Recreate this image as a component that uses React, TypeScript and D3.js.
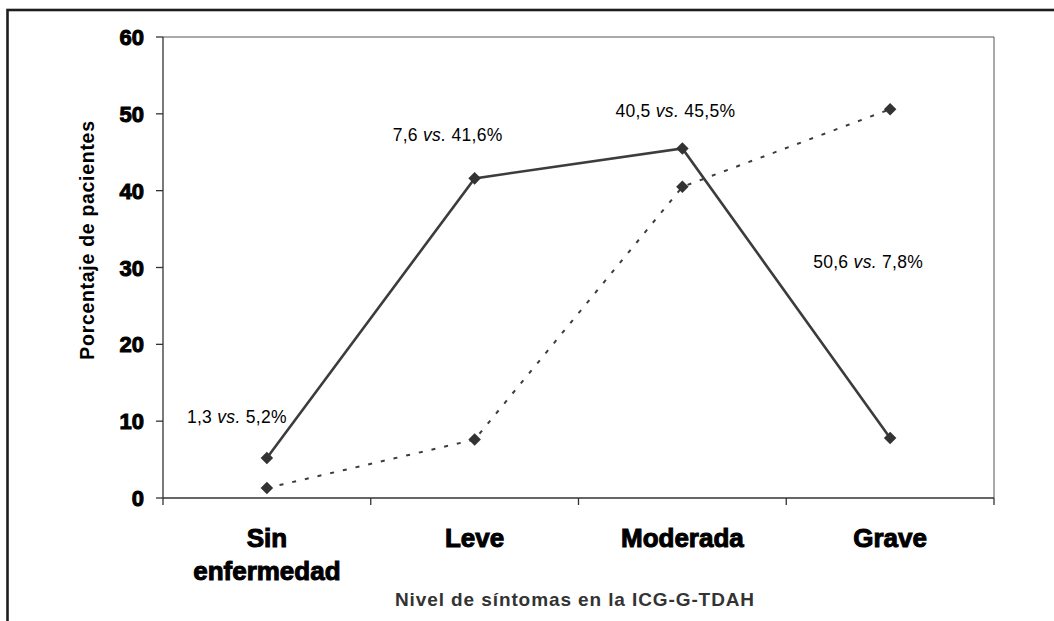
import React from "react";
import * as d3 from "d3";

// Symptom level categories (ICG-G-TDAH)
const categories = ["Sin enfermedad", "Leve", "Moderada", "Grave"];
const categoryLines = [["Sin", "enfermedad"], ["Leve"], ["Moderada"], ["Grave"]];
// Percentage of patients, two groups
const solidSeries = [5.2, 41.6, 45.5, 7.8];
const dottedSeries = [1.3, 7.6, 40.5, 50.6];
// Annotation text: "dotted vs. solid%"
const annotationFirst = ["1,3", "7,6", "40,5", "50,6"];
const annotationSecond = ["5,2%", "41,6%", "45,5%", "7,8%"];
const yTicks = [0, 10, 20, 30, 40, 50, 60];

const W = 1054;
const H = 621;
const plot = { left: 163, right: 994, top: 37, bottom: 498 };

// Label placement relative to each category centre (dx) and absolute value height (yv)
const annotationLayout = [
  { dx: -30, yv: 9.8 },
  { dx: -27, yv: 46.4 },
  { dx: -7, yv: 49.6 },
  { dx: -22, yv: 29.9 },
];

const LINE = "#3c3c3c";
const FONT = "Liberation Sans, Arial, sans-serif";

export default function App() {
  const x = d3.scaleBand<string>().domain(categories).range([plot.left, plot.right]).padding(0);
  const y = d3.scaleLinear().domain([0, 60]).range([plot.bottom, plot.top]);
  const cx = (i: number) => (x(categories[i]) as number) + x.bandwidth() / 2;

  const line = d3
    .line<number>()
    .x((_, i) => cx(i))
    .y((d) => y(d));

  const diamond = d3.symbol().type(d3.symbolDiamond2).size(100)() as string;

  const xTickPositions = [...categories.map((c) => x(c) as number), plot.right];

  return (
    <div style={{ position: "fixed", left: 0, top: 0, width: W, height: H }}>
      <svg width={W} height={H} style={{ display: "block", background: "#fff" }}>
        {/* outer frame */}
        <rect x={7.5} y={10} width={1200} height={800} fill="none" stroke="#1e1e1e" strokeWidth={2.6} />

        {/* plot box top/right */}
        <line x1={plot.left} x2={plot.right} y1={plot.top} y2={plot.top} stroke="#555" strokeWidth={1} />
        <line x1={plot.right} x2={plot.right} y1={plot.top} y2={plot.bottom} stroke="#555" strokeWidth={1} />

        {/* y axis */}
        <line x1={plot.left} x2={plot.left} y1={plot.top} y2={plot.bottom} stroke="#333" strokeWidth={1.3} />
        {yTicks.map((t) => (
          <g key={t}>
            <line x1={plot.left - 7} x2={plot.left} y1={y(t)} y2={y(t)} stroke="#333" strokeWidth={1.3} />
            <text
              x={144}
              y={y(t) + 8}
              textAnchor="end"
              fontFamily={FONT}
              fontWeight="bold"
              fontSize={22}
              fill="#000"
              stroke="#000"
              strokeWidth={1}
            >
              {t}
            </text>
          </g>
        ))}

        {/* x axis */}
        <line x1={plot.left} x2={plot.right} y1={plot.bottom} y2={plot.bottom} stroke="#333" strokeWidth={1.3} />
        {xTickPositions.map((p, i) => (
          <line key={i} x1={p} x2={p} y1={plot.bottom} y2={plot.bottom + 7} stroke="#333" strokeWidth={1.3} />
        ))}
        {categoryLines.map((lines, i) => (
          <text
            key={i}
            x={cx(i)}
            y={547}
            textAnchor="middle"
            fontFamily={FONT}
            fontWeight="bold"
            fontSize={26}
            fill="#000"
            stroke="#000"
            strokeWidth={1}
          >
            {lines.map((l, j) => (
              <tspan key={j} x={cx(i)} dy={j === 0 ? 0 : 33}>
                {l}
              </tspan>
            ))}
          </text>
        ))}

        {/* axis titles */}
        <text
          transform={`translate(94,240) rotate(-90)`}
          textAnchor="middle"
          fontFamily={FONT}
          fontWeight="bold"
          fontSize={19.5}
          letterSpacing={0.7}
          fill="#000"
        >
          Porcentaje de pacientes
        </text>
        <text
          x={575}
          y={606}
          textAnchor="middle"
          fontFamily={FONT}
          fontWeight="bold"
          fontSize={19}
          letterSpacing={0.9}
          fill="#333"
        >
          Nivel de síntomas en la ICG-G-TDAH
        </text>

        {/* series */}
        <path d={line(dottedSeries) as string} fill="none" stroke={LINE} strokeWidth={2} strokeDasharray="4,9" />
        <path d={line(solidSeries) as string} fill="none" stroke={LINE} strokeWidth={2.6} />
        {dottedSeries.map((v, i) => (
          <path key={"d" + i} d={diamond} transform={`translate(${cx(i)},${y(v)})`} fill="#333" />
        ))}
        {solidSeries.map((v, i) => (
          <path key={"s" + i} d={diamond} transform={`translate(${cx(i)},${y(v)})`} fill="#333" />
        ))}

        {/* value annotations */}
        {categories.map((c, i) => (
          <text
            key={c}
            x={cx(i) + annotationLayout[i].dx}
            y={y(annotationLayout[i].yv)}
            textAnchor="middle"
            fontFamily={FONT}
            fontSize={17.5}
            letterSpacing={0.3}
            fill="#000"
          >
            {annotationFirst[i]} <tspan fontStyle="italic">vs.</tspan> {annotationSecond[i]}
          </text>
        ))}
      </svg>
    </div>
  );
}
